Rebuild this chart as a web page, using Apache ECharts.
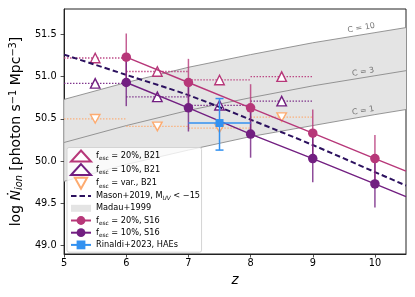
<!DOCTYPE html>
<html><head><meta charset="utf-8">
<script src="https://cdn.jsdelivr.net/npm/echarts@6/dist/echarts.min.js"></script>
<style>html,body{margin:0;padding:0;background:#fff}#c{width:415px;height:297px}</style>
</head><body><div id="c"></div><script>
// ---- data ----
const xTicks = [5, 6, 7, 8, 9, 10];
const yTicks = [49.0, 49.5, 50.0, 50.5, 51.0, 51.5];

const zCurve = [5, 6, 7, 8, 9, 10, 10.5];
const madauC1 = [49.76, 49.96, 50.13, 50.29, 50.42, 50.55, 50.61];
const madauC3 = [50.22, 50.42, 50.60, 50.75, 50.89, 51.01, 51.07];
const madauC10 = [50.73, 50.93, 51.11, 51.26, 51.40, 51.52, 51.58];
const cLabels = ['C = 10', 'C = 3', 'C = 1'];

const zB21 = [5.5, 6.5, 7.5, 8.5];
const zB21Err = [0.5, 0.5, 0.5, 0.5];
const b21f20 = [51.22, 51.06, 50.96, 51.00];
const b21f10 = [50.92, 50.76, 50.66, 50.71];
const b21var = [50.50, 50.41, 50.39, 50.52];

const zMason = [5, 6, 7, 8, 9, 10, 10.5];
const mason = [51.26, 51.02, 50.78, 50.49, 50.19, 49.87, 49.71];

const zS16 = [6, 7, 8, 9, 10];
const s16f20 = [51.23, 50.93, 50.63, 50.33, 50.03];
const s16f10 = [50.93, 50.63, 50.32, 50.03, 49.73];
const s16Err = [0.28, 0.28, 0.28, 0.28, 0.28];
const zS16End = 10.5;
const s16f20End = 49.88;
const s16f10End = 49.58;

const zRinaldi = [7.5];
const rinaldi = [50.45];
const rinaldiErrLo = [0.32];
const rinaldiErrHi = [0.29];
const rinaldiZErr = [0.5];

// ---- style ----
const FONT = 'DejaVu Sans';
const C20 = '#b73779', C10 = '#721f81', CVAR = '#fdab70', NAVY = '#2c115f', BLUE = '#3391f0';
const DOWN_TRI = 'path://M0,0L10,0L5,9Z';

const N = {
  b20: 'fesc20B21', b10: 'fesc10B21', bv: 'fescvarB21', mason: 'Mason', madau: 'Madau+1999',
  s20: 'fesc20S16', s10: 'fesc10S16', rin: 'Rinaldi'
};
const legendText = {};
legendText[N.b20] = '{n|f}{s|esc}{n| = 20%, B21}';
legendText[N.b10] = '{n|f}{s|esc}{n| = 10%, B21}';
legendText[N.bv] = '{n|f}{s|esc}{n| = var., B21}';
legendText[N.mason] = '{n|Mason+2019, M}{si|UV}{n| < \u221215}';
legendText[N.madau] = '{n|Madau+1999}';
legendText[N.s20] = '{n|f}{s|esc}{n| = 20%, S16}';
legendText[N.s10] = '{n|f}{s|esc}{n| = 10%, S16}';
legendText[N.rin] = '{n|Rinaldi+2023, HAEs}';

function xErrSeries(zs, ys, xe, color, z, dotted, cap) {
  return {
    type: 'custom', z, clip: true, silent: true,
    data: zs.map((x, i) => [x, ys[i], xe[i]]),
    renderItem(params, api) {
      const x = api.value(0), y = api.value(1), e = api.value(2);
      const a = api.coord([x - e, y]), b = api.coord([x + e, y]);
      const st = dotted ? { stroke: color, lineWidth: 1.3, lineDash: [1.3, 1.7] }
                        : { stroke: color, lineWidth: 1.5 };
      const ch = [{ type: 'line', shape: { x1: a[0], y1: a[1], x2: b[0], y2: b[1] }, style: st }];
      if (cap) {
        ch.push({ type: 'line', shape: { x1: a[0], y1: a[1] - cap, x2: a[0], y2: a[1] + cap }, style: st });
        ch.push({ type: 'line', shape: { x1: b[0], y1: b[1] - cap, x2: b[0], y2: b[1] + cap }, style: st });
      }
      return { type: 'group', children: ch };
    }
  };
}
function yErrSeries(zs, ys, lo, hi, color, z, opacity, cap) {
  return {
    type: 'custom', z, clip: true, silent: true,
    data: zs.map((x, i) => [x, ys[i], lo[i], hi[i]]),
    renderItem(params, api) {
      const x = api.value(0), y = api.value(1);
      const a = api.coord([x, y - api.value(2)]), b = api.coord([x, y + api.value(3)]);
      const st = { stroke: color, lineWidth: 1.5, opacity };
      const ch = [{ type: 'line', shape: { x1: a[0], y1: a[1], x2: b[0], y2: b[1] }, style: st }];
      if (cap) {
        ch.push({ type: 'line', shape: { x1: a[0] - cap, y1: a[1], x2: a[0] + cap, y2: a[1] }, style: st });
        ch.push({ type: 'line', shape: { x1: b[0] - cap, y1: b[1], x2: b[0] + cap, y2: b[1] }, style: st });
      }
      return { type: 'group', children: ch };
    }
  };
}
function triSeries(name, ys, color, symbol) {
  return {
    type: 'scatter', name, z: 4, symbol, symbolSize: 9.5, symbolKeepAspect: true,
    data: zB21.map((x, i) => [x, ys[i]]),
    itemStyle: { color: '#fff', borderColor: color, borderWidth: 1.4, opacity: 1 }
  };
}
function s16Series(name, ys, endV, color) {
  const d = zS16.map((x, i) => [x, ys[i]]);
  d.push({ value: [zS16End, endV], symbol: 'none' });
  return {
    type: 'line', name, z: 7, data: d, symbol: 'circle', symbolSize: 9.5, showSymbol: true,
    lineStyle: { color, width: 1.4 }, itemStyle: { color, borderWidth: 0 }
  };
}
function curve(vals) {
  return {
    type: 'line', z: 2, silent: true, symbol: 'none',
    data: zCurve.map((x, i) => [x, vals[i]]),
    lineStyle: { color: '#8a8a8a', width: 0.9 }
  };
}

const chart = echarts.init(document.getElementById('c'), null, { renderer: 'canvas' });
chart.setOption({
  animation: false,
  backgroundColor: '#fff',
  grid: { left: 63, right: 9, top: 9, bottom: 43, show: true, borderColor: '#222', borderWidth: 1, backgroundColor: 'transparent' },
  xAxis: {
    type: 'value', min: 5, max: 10.5,
    axisLine: { show: true, lineStyle: { color: '#222', width: 1 } },
    axisTick: { show: true, customValues: xTicks, length: 3.5, lineStyle: { color: '#222', width: 0.8 } },
    axisLabel: { customValues: xTicks, margin: 4.5, fontSize: 9.75, color: '#000', fontFamily: FONT },
    splitLine: { show: false },
    name: 'z', nameLocation: 'middle', nameGap: 16,
    nameTextStyle: { fontSize: 13.5, fontStyle: 'italic', color: '#000', fontFamily: FONT }
  },
  yAxis: {
    type: 'value', min: 48.9, max: 51.8,
    axisLine: { show: true, lineStyle: { color: '#222', width: 1 } },
    axisTick: { show: true, customValues: yTicks, length: 3.5, lineStyle: { color: '#222', width: 0.8 } },
    axisLabel: { customValues: yTicks, margin: 7.5, fontSize: 9.75, color: '#000', fontFamily: FONT,
      formatter: v => Number(v).toFixed(1) },
    splitLine: { show: false },
    name: '{n|log }{i|\u1E44}{is|ion}{n| [photon s}{sp|\u22121}{n| Mpc}{sp|\u22123}{n|]}',
    nameLocation: 'middle', nameGap: 33,
    nameTextStyle: {
      color: '#000', fontFamily: FONT, fontSize: 14,
      rich: {
        n: { fontSize: 14, lineHeight: 16, fontFamily: FONT, color: '#000' },
        i: { fontSize: 14, lineHeight: 16, fontStyle: 'italic', fontFamily: FONT, color: '#000' },
        is: { fontSize: 9.8, lineHeight: 7, verticalAlign: 'bottom', fontStyle: 'italic', fontFamily: FONT, color: '#000' },
        sp: { fontSize: 9.8, lineHeight: 8, verticalAlign: 'top', fontFamily: FONT, color: '#000' }
      }
    }
  },
  legend: {
    orient: 'vertical', left: 67, top: 147.5,
    padding: [2, 1.5, 1.5, 3], itemGap: 0.6, itemWidth: 20, itemHeight: 11,
    backgroundColor: 'rgba(255,255,255,0.8)', borderColor: '#d4d4d4', borderWidth: 1, borderRadius: 2,
    selectedMode: false,
    data: [
      { name: N.b20 }, { name: N.b10 }, { name: N.bv },
      { name: N.mason, itemStyle: { color: 'rgba(0,0,0,0)', borderWidth: 0, opacity: 0 } },
      { name: N.madau, icon: 'path://M0,0H20V7H0Z', itemStyle: { color: '#e4e4e4', borderWidth: 0 } },
      { name: N.s20 }, { name: N.s10 }, { name: N.rin }
    ],
    formatter: name => legendText[name],
    textStyle: {
      fontFamily: FONT, fontSize: 8.2, color: '#000', lineHeight: 11.6,
      rich: {
        n: { fontSize: 8.2, lineHeight: 11.6, fontFamily: FONT, color: '#000' },
        s: { fontSize: 5.8, lineHeight: 6, verticalAlign: 'bottom', fontFamily: FONT, color: '#000' },
        si: { fontSize: 5.8, lineHeight: 6, verticalAlign: 'bottom', fontStyle: 'italic', fontFamily: FONT, color: '#000' }
      }
    }
  },
  series: [
    {
      type: 'custom', name: N.madau, z: 1, clip: true, silent: true,
      data: [[zCurve[0], madauC1[0]]],
      itemStyle: { color: '#e4e4e4' },
      renderItem(params, api) {
        const pts = [];
        for (let i = 0; i < zCurve.length; i++) pts.push(api.coord([zCurve[i], madauC1[i]]));
        for (let i = zCurve.length - 1; i >= 0; i--) pts.push(api.coord([zCurve[i], madauC10[i]]));
        return { type: 'polygon', shape: { points: pts }, style: { fill: '#e4e4e4' } };
      }
    },
    curve(madauC1), curve(madauC3), curve(madauC10),
    {
      type: 'scatter', z: 2, silent: true, symbolSize: 0,
      data: [[9.78, 51.575], [9.81, 51.055], [9.81, 50.595]],
      label: { show: true, position: 'inside', rotate: 10, formatter: p => cLabels[p.dataIndex],
        fontSize: 8, color: '#555', fontFamily: FONT }
    },
    xErrSeries(zB21, b21f20, zB21Err, C20, 3, true, 0),
    xErrSeries(zB21, b21f10, zB21Err, C10, 3, true, 0),
    xErrSeries(zB21, b21var, zB21Err, CVAR, 3, true, 0),
    triSeries(N.b20, b21f20, C20, 'triangle'),
    triSeries(N.b10, b21f10, C10, 'triangle'),
    triSeries(N.bv, b21var, CVAR, DOWN_TRI),
    {
      type: 'line', name: N.mason, z: 5, symbol: 'none', smooth: 0.3,
      data: zMason.map((x, i) => [x, mason[i]]),
      lineStyle: { color: NAVY, width: 2, type: [5.5, 3] }, itemStyle: { color: NAVY }
    },
    yErrSeries(zS16, s16f20, s16Err, s16Err, C20, 6, 0.8, 0),
    yErrSeries(zS16, s16f10, s16Err, s16Err, C10, 6, 0.8, 0),
    s16Series(N.s20, s16f20, s16f20End, C20),
    s16Series(N.s10, s16f10, s16f10End, C10),
    yErrSeries(zRinaldi, rinaldi, rinaldiErrLo, rinaldiErrHi, BLUE, 8, 1, 4),
    xErrSeries(zRinaldi, rinaldi, rinaldiZErr, BLUE, 8, false, 0),
    {
      type: 'line', name: N.rin, z: 9, symbol: 'rect', symbolSize: 8,
      data: zRinaldi.map((x, i) => [x, rinaldi[i]]),
      lineStyle: { color: BLUE, width: 1.5 }, itemStyle: { color: BLUE }
    }
  ]
});
</script></body></html>
